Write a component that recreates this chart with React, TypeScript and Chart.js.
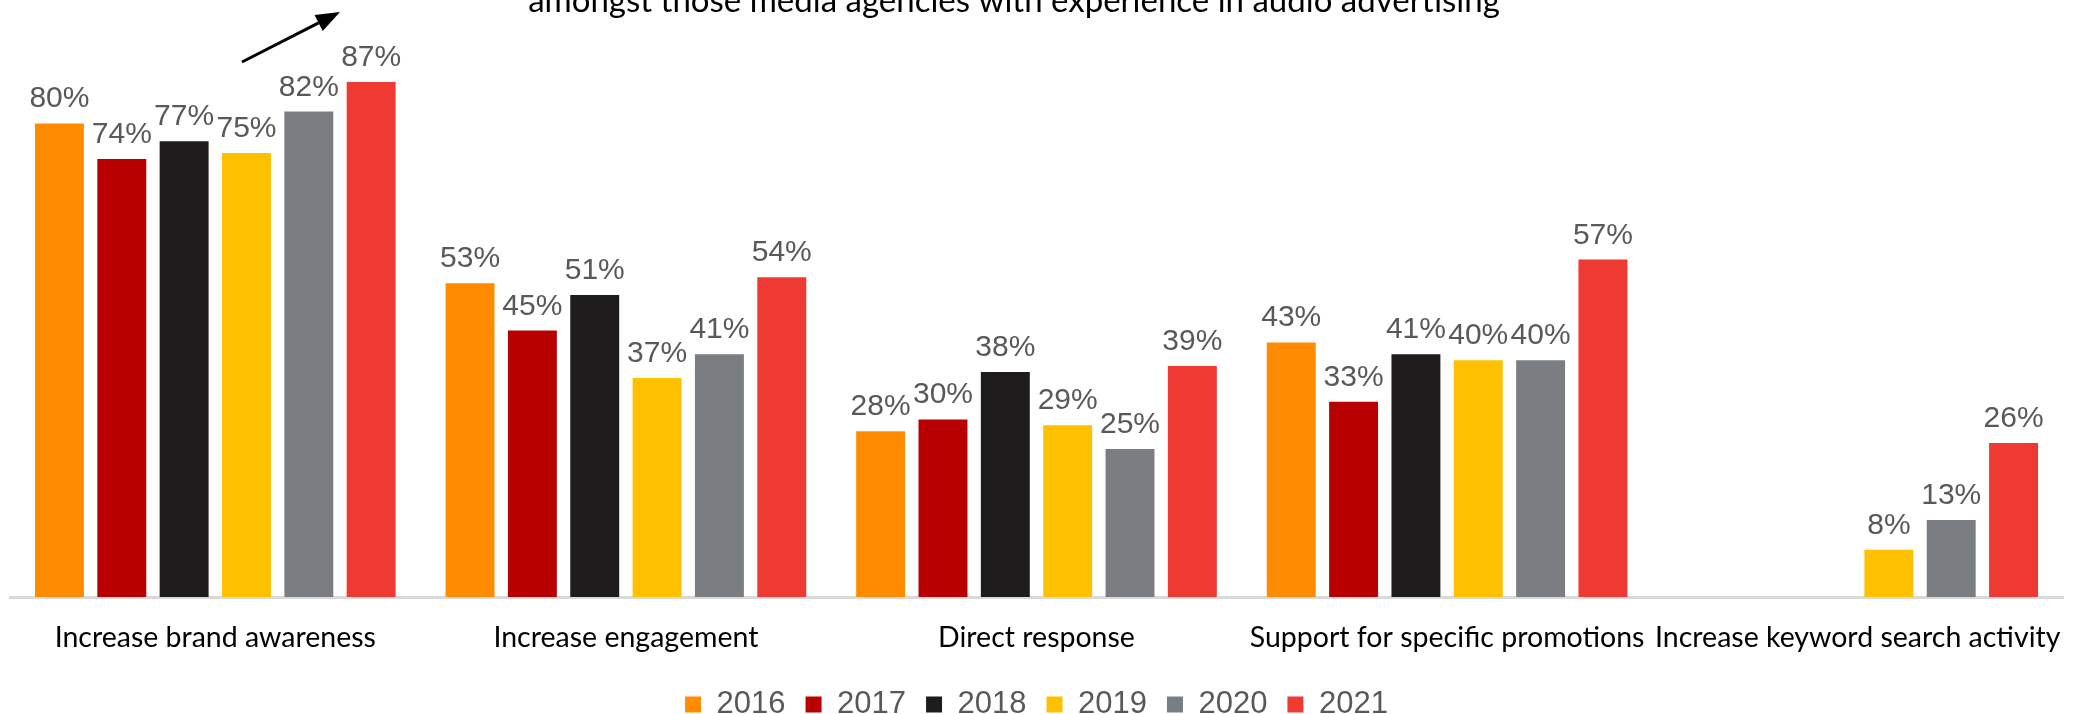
import React, { useEffect, useRef } from "react";
import { Chart, registerables } from "chart.js";

Chart.register(...registerables);

const categories = [
  "Increase brand awareness",
  "Increase engagement",
  "Direct response",
  "Support for specific promotions",
  "Increase keyword search activity",
];
const years = ["2016", "2017", "2018", "2019", "2020", "2021"];
const v2016 = [80, 53, 28, 43, null];
const v2017 = [74, 45, 30, 33, null];
const v2018 = [77, 51, 38, 41, null];
const v2019 = [75, 37, 29, 40, 8];
const v2020 = [82, 41, 25, 40, 13];
const v2021 = [87, 54, 39, 57, 26];
const seriesValues = [v2016, v2017, v2018, v2019, v2020, v2021];
const colors = ["#FF8C00", "#B90000", "#1E1C1D", "#FFC000", "#7A7E82", "#EF3A33"];
const titleText = "amongst those media agencies with experience in audio advertising";

const dataLabelsPlugin = {
  id: "dataLabels",
  afterDatasetsDraw(chart: any) {
    const ctx = chart.ctx;
    ctx.save();
    ctx.font = "30px 'Liberation Sans', Arial, sans-serif";
    ctx.fillStyle = "#595959";
    ctx.textAlign = "center";
    ctx.textBaseline = "alphabetic";
    chart.data.datasets.forEach((ds: any, i: number) => {
      const meta = chart.getDatasetMeta(i);
      meta.data.forEach((el: any, j: number) => {
        const v = ds.data[j];
        if (v == null) return;
        ctx.fillText(v + "%", el.x, el.y - 16);
      });
    });
    ctx.restore();
  },
};

const annotationPlugin = {
  id: "annotations",
  afterDraw(chart: any) {
    const ctx = chart.ctx;
    ctx.save();
    // cut-off title
    ctx.font = "33px Lato, 'Open Sans', sans-serif";
    ctx.fillStyle = "#000000";
    ctx.textAlign = "center";
    ctx.textBaseline = "alphabetic";
    ctx.fillText(titleText, 1014, 12, 976);
    // arrow
    const x1 = 242, y1 = 62, x2 = 340, y2 = 12;
    const ang = Math.atan2(y2 - y1, x2 - x1);
    const head = 24;
    const bx = x2 - head * Math.cos(ang);
    const by = y2 - head * Math.sin(ang);
    ctx.strokeStyle = "#000000";
    ctx.lineWidth = 3;
    ctx.beginPath();
    ctx.moveTo(x1, y1);
    ctx.lineTo(bx, by);
    ctx.stroke();
    ctx.fillStyle = "#000000";
    ctx.beginPath();
    ctx.moveTo(x2, y2);
    ctx.lineTo(bx + 9 * Math.sin(ang), by - 9 * Math.cos(ang));
    ctx.lineTo(bx - 9 * Math.sin(ang), by + 9 * Math.cos(ang));
    ctx.closePath();
    ctx.fill();
    ctx.restore();
  },
};

export default function App() {
  const ref = useRef<HTMLCanvasElement | null>(null);
  useEffect(() => {
    if (!ref.current) return;
    const chart = new Chart(ref.current, {
      type: "bar",
      data: {
        labels: categories,
        datasets: years.map((y, i) => ({
          label: y,
          data: seriesValues[i],
          backgroundColor: colors[i],
          borderWidth: 0,
          categoryPercentage: 0.911,
          barPercentage: 0.785,
        })),
      },
      options: {
        animation: false,
        responsive: false,
        layout: { padding: { left: 10, right: 16, top: 5, bottom: -16 } },
        plugins: {
          title: { display: false },
          tooltip: { enabled: false },
          legend: {
            position: "bottom",
            labels: {
              boxWidth: 16,
              boxHeight: 16,
              padding: 20,
              color: "#595959",
              font: { size: 31, family: "'Liberation Sans', Arial, sans-serif" },
            },
          },
        },
        scales: {
          x: {
            grid: {
              display: true,
              drawOnChartArea: false,
              drawTicks: true,
              tickLength: 24,
              color: "rgba(0,0,0,0)",
            },
            border: { display: true, color: "#D9D9D9", width: 3 },
            ticks: {
              color: "#000000",
              padding: 0,
              maxRotation: 0,
              autoSkip: false,
              font: { size: 28.5, family: "Lato, 'Open Sans', sans-serif" },
            },
            afterFit: (scale: any) => {
              scale.height = 72;
            },
          },
          y: {
            display: false,
            min: 0,
            max: 100,
          },
        },
      },
      plugins: [dataLabelsPlugin, annotationPlugin],
    });
    return () => chart.destroy();
  }, []);
  return (
    <div style={{ position: "fixed", left: 0, top: 0, width: 2079, height: 714, background: "#ffffff" }}>
      <canvas ref={ref} width={2079} height={714} style={{ display: "block" }} />
    </div>
  );
}
